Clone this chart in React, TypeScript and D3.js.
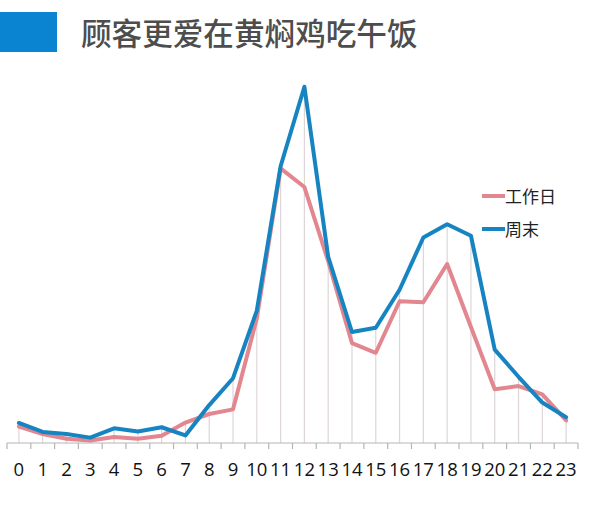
import { useEffect } from "react";
import * as d3 from "d3";

const hours = d3.range(0, 24).map(String);
// share of orders per hour
const workday = [4.6, 2.5, 1.2, 0.7, 1.7, 1.2, 2.0, 5.7, 8.1, 9.4, 34.8, 76.7, 71.5, 50.8, 27.9, 25.2, 39.6, 39.3, 50, 32.4, 15, 15.9, 13.6, 6.3];
const weekend = [5.6, 3.1, 2.5, 1.5, 4.1, 3.2, 4.4, 2.1, 10.6, 18.1, 37, 77.3, 99.5, 52, 31, 32.2, 42.8, 57.4, 61.1, 57.9, 26.1, 18.5, 11.3, 7.2];
const seriesNames = ["工作日", "周末"];
const seriesColors = ["#e2878f", "#1784c2"];
const title = "顾客更爱在黄焖鸡吃午饭";

export default function App() {
  useEffect(() => {
    document.body.style.margin = "0";
  }, []);

  const width = 600;
  const height = 519;
  const baseY = 443;

  const x = d3.scaleBand<string>().domain(hours).range([7, 578]);
  const y = d3.scaleLinear().domain([0, 100]).range([baseY, 85]);
  const cx = (h: string) => (x(h) ?? 0) + x.bandwidth() / 2;

  const line = d3.line<number>()
    .x((_, i) => cx(hours[i]))
    .y(d => y(d));

  const series = [workday, weekend];
  const edges = hours.map(h => x(h) ?? 0).concat([(x(hours[23]) ?? 0) + x.bandwidth()]);

  return (
    <svg width={width} height={height} style={{ display: "block", background: "#fff" }}>
      <rect x={0} y={12} width={57} height={40} fill="#0a84d0" />
      <text x={81} y={45} fontSize={30.6} fontWeight={500} fill="#4d4d4d" fontFamily="'Noto Sans CJK SC', sans-serif">{title}</text>

      {/* drop lines */}
      {hours.map((h, i) => (
        <line key={h} x1={cx(h)} x2={cx(h)} y1={baseY} y2={y(Math.max(workday[i], weekend[i]))}
          stroke="#ddd5d7" strokeWidth={1.2} />
      ))}

      {/* axis */}
      <line x1={edges[0]} x2={edges[edges.length - 1]} y1={baseY} y2={baseY} stroke="#b5b5b5" strokeWidth={1.2} />
      {edges.map((e, i) => (
        <line key={i} x1={e} x2={e} y1={baseY} y2={baseY + 6} stroke="#b5b5b5" strokeWidth={1.2} />
      ))}
      {hours.map(h => (
        <text key={h} x={cx(h)} y={476} textAnchor="middle" fontSize={18.5} fill="#111"
          fontFamily="'Open Sans', 'Liberation Sans', sans-serif">{h}</text>
      ))}

      {series.map((s, i) => (
        <path key={i} d={line(s) ?? ""} fill="none" stroke={seriesColors[i]} strokeWidth={4}
          strokeLinejoin="round" strokeLinecap="round" />
      ))}

      {/* legend */}
      {seriesNames.map((n, i) => (
        <g key={n} transform={`translate(482, ${196 + i * 33})`}>
          <line x1={0} x2={23} y1={0} y2={0} stroke={seriesColors[i]} strokeWidth={4} />
          <text x={23} y={6.5} fontSize={17} fill="#222" fontFamily="'Noto Sans CJK SC', sans-serif">{n}</text>
        </g>
      ))}
    </svg>
  );
}
